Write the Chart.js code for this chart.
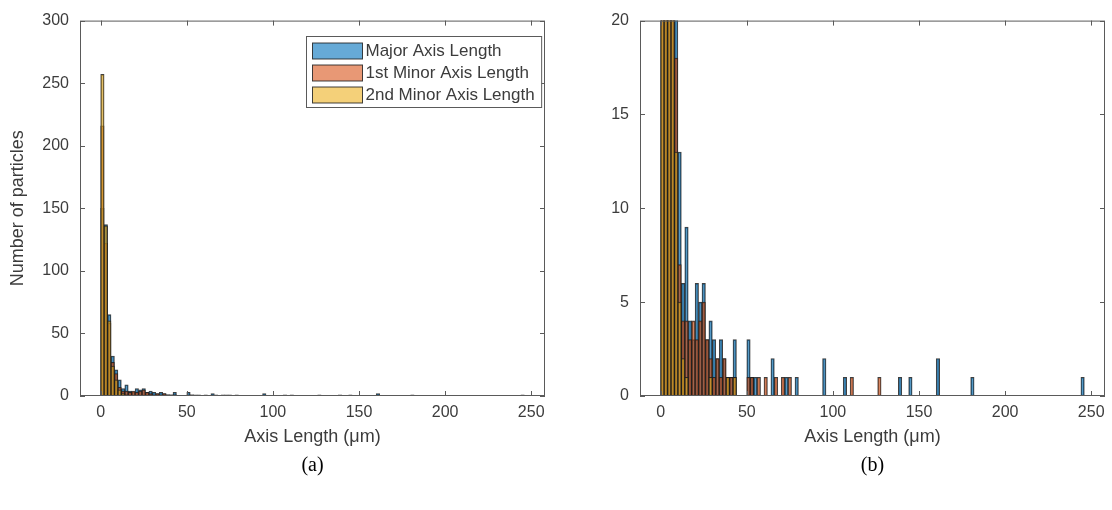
<!DOCTYPE html>
<html>
<head>
<meta charset="utf-8">
<script src="https://cdn.jsdelivr.net/npm/chart.js@4.4.0/dist/chart.umd.min.js"></script>
<style>
  body { margin: 0; background: #fff; }
  #wrap { position: relative; width: 1112px; height: 510px; }
  canvas { position: absolute; top: 0; }
  #panelA { left: 0; }
  #panelB { left: 560px; }
</style>
</head>
<body>
<div id="wrap">
  <canvas id="panelA" width="560" height="510"></canvas>
  <canvas id="panelB" width="552" height="510"></canvas>
</div>
<script>
// Histogram bins are 2 um wide, listed by their lower edge
const BIN_WIDTH = 2;

const majorEdges  = [0, 2, 4, 6, 8, 10, 12, 14, 16, 18, 20, 22, 24, 26, 28, 30, 32, 34, 36, 38, 40, 42,
                     50, 52, 54, 64, 72, 78, 94, 106, 138, 144, 160, 180, 244];
const majorCounts = [150, 137, 65, 32, 21, 13, 6, 9, 4, 3, 6, 5, 6, 3, 4, 3, 2, 3, 2, 1, 1, 3,
                     3, 1, 1, 2, 1, 1, 2, 1, 1, 1, 2, 1, 1];

const minor1Edges  = [0, 2, 4, 6, 8, 10, 12, 14, 16, 18, 20, 22, 24, 26, 28, 30, 32, 34, 36, 38, 40, 42,
                      50, 52, 56, 60, 66, 70, 74, 110, 126];
const minor1Counts = [216, 122, 58, 27, 18, 7, 4, 4, 3, 4, 3, 4, 5, 3, 2, 1, 2, 1, 2, 1, 1, 1,
                      1, 1, 1, 1, 1, 1, 1, 1, 1];

const minor2Edges  = [0, 2, 4, 6, 8, 10, 12, 14, 28, 38, 42];
const minor2Counts = [257, 136, 60, 24, 13, 5, 2, 1, 1, 1, 1];

const seriesLabels = ['Major Axis Length', '1st Minor Axis Length', '2nd Minor Axis Length'];
const xTicks  = [0, 50, 100, 150, 200, 250];
const yTicksA = [0, 50, 100, 150, 200, 250, 300];
const yTicksB = [0, 5, 10, 15, 20];
const X_MIN = -12, X_MAX = 258;

const AXIS_COLOR = '#5a5a5a';
const TEXT_COLOR = '#3c3c3c';
const EDGE_COLOR = 'rgba(30,30,30,0.85)';
const SANS = '"Liberation Sans", Arial, sans-serif';

function toBins(edges, counts) {
  return edges.map((e, i) => ({ x: e + BIN_WIDTH / 2, y: counts[i] }));
}

// box around the axes with inward ticks on all four sides
const frame = {
  id: 'frame',
  afterDatasetsDraw(chart) {
    const { ctx, chartArea: a, scales: { x, y } } = chart;
    ctx.save();
    ctx.strokeStyle = AXIS_COLOR;
    ctx.lineWidth = 1;
    ctx.strokeRect(a.left + 0.5, a.top + 0.5, a.right - a.left - 1, a.bottom - a.top - 1);
    ctx.beginPath();
    x.ticks.forEach(t => {
      const px = Math.round(x.getPixelForValue(t.value)) + 0.5;
      ctx.moveTo(px, a.bottom); ctx.lineTo(px, a.bottom - 5);
      ctx.moveTo(px, a.top); ctx.lineTo(px, a.top + 5);
    });
    y.ticks.forEach(t => {
      const py = Math.round(y.getPixelForValue(t.value)) + 0.5;
      ctx.moveTo(a.left, py); ctx.lineTo(a.left + 5, py);
      ctx.moveTo(a.right, py); ctx.lineTo(a.right - 5, py);
    });
    ctx.stroke();
    ctx.restore();
  }
};

// boxed legend in the upper right corner of the axes
const legendBox = {
  id: 'legendBox',
  afterDatasetsDraw(chart, args, opts) {
    if (!opts.show) return;
    const { ctx, chartArea: a } = chart;
    const sets = chart.data.datasets;
    ctx.save();
    ctx.font = '17px ' + SANS;
    const textW = Math.max(...sets.map(d => ctx.measureText(d.label).width));
    const sw = 50, sh = 16, rowH = 22;
    const w = 6 + sw + 4 + textW + 6;
    const h = rowH * sets.length + 5;
    const x0 = Math.round(a.right - 4 - w) + 0.5;
    const y0 = Math.round(a.top + 15) + 0.5;
    ctx.fillStyle = '#fff';
    ctx.fillRect(x0, y0, w, h);
    ctx.strokeStyle = AXIS_COLOR;
    ctx.lineWidth = 1;
    ctx.strokeRect(x0, y0, w, h);
    sets.forEach((d, i) => {
      const cy = y0 + 3 + rowH * (i + 0.5);
      const sx = x0 + 6, sy = Math.round(cy - sh / 2);
      ctx.fillStyle = d.backgroundColor;
      ctx.fillRect(sx, sy, sw, sh);
      ctx.strokeStyle = d.borderColor;
      ctx.strokeRect(sx, sy, sw, sh);
      ctx.fillStyle = TEXT_COLOR;
      ctx.textBaseline = 'middle';
      ctx.fillText(d.label, sx + sw + 3, cy + 1);
    });
    ctx.restore();
  }
};

function makePanel(id, caption, yMax, yTicks, yTitle, padRight, withLegend) {
  const tickFont = { family: SANS, size: 16 };
  const titleFont = { family: SANS, size: 18 };
  return new Chart(document.getElementById(id), {
    type: 'bar',
    data: {
      datasets: [
        { label: seriesLabels[0], data: toBins(majorEdges, majorCounts),
          backgroundColor: 'rgba(0,114,189,0.6)', borderColor: EDGE_COLOR, order: 3 },
        { label: seriesLabels[1], data: toBins(minor1Edges, minor1Counts),
          backgroundColor: 'rgba(217,83,25,0.6)', borderColor: EDGE_COLOR, order: 2 },
        { label: seriesLabels[2], data: toBins(minor2Edges, minor2Counts),
          backgroundColor: 'rgba(237,177,32,0.6)', borderColor: EDGE_COLOR, order: 1 }
      ]
    },
    options: {
      responsive: false,
      animation: false,
      devicePixelRatio: 1,
      events: [],
      layout: { padding: { top: 16, right: padRight, bottom: 28, left: 0 } },
      datasets: {
        bar: {
          grouped: false,
          categoryPercentage: 1,
          barPercentage: 1,
          borderWidth: 1,
          borderSkipped: false,
          clip: 0
        }
      },
      scales: {
        x: {
          type: 'linear',
          offset: false,
          min: X_MIN,
          max: X_MAX,
          afterBuildTicks: s => { s.ticks = xTicks.map(v => ({ value: v })); },
          afterFit: s => { s.height = 56; },
          grid: { display: false, drawTicks: false, offset: false },
          border: { display: false },
          ticks: { padding: 7, color: TEXT_COLOR, font: tickFont, maxRotation: 0 },
          title: { display: true, text: 'Axis Length (μm)', color: TEXT_COLOR,
                   font: titleFont, padding: { top: 0, bottom: 4 } }
        },
        y: {
          type: 'linear',
          min: 0,
          max: yMax,
          afterBuildTicks: s => { s.ticks = yTicks.map(v => ({ value: v })); },
          afterFit: s => { s.width = 80; },
          grid: { display: false, drawTicks: false },
          border: { display: false },
          ticks: { padding: 11, color: TEXT_COLOR, font: tickFont },
          title: { display: !!yTitle, text: yTitle, color: TEXT_COLOR,
                   font: titleFont, padding: { top: 7, bottom: 0 } }
        }
      },
      plugins: {
        legend: { display: false },
        tooltip: { enabled: false },
        title: {
          display: true,
          text: caption,
          position: 'bottom',
          fullSize: false,
          color: '#000',
          font: { family: '"Liberation Serif", "Times New Roman", serif', size: 20, weight: 'normal' },
          padding: { top: 2, bottom: 4 }
        },
        legendBox: { show: withLegend }
      }
    },
    plugins: [frame, legendBox]
  });
}

makePanel('panelA', '(a)', 300, yTicksA, 'Number of particles', 15, true);
makePanel('panelB', '(b)', 20, yTicksB, '', 7, false);
</script>
</body>
</html>
